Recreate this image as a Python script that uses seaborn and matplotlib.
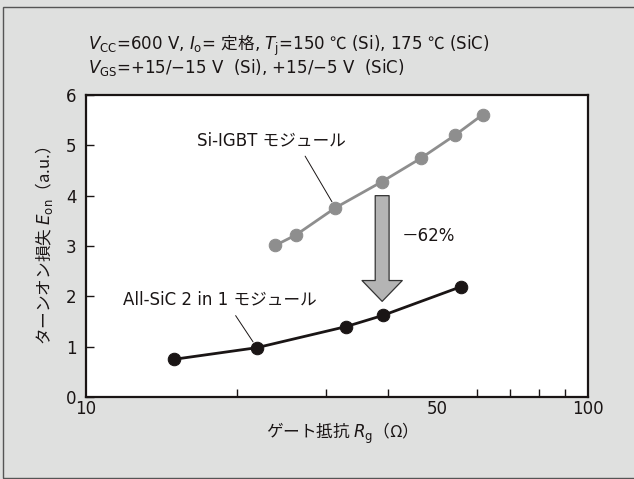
import numpy as np
import matplotlib
matplotlib.use("Agg")
import matplotlib.pyplot as plt
import seaborn as sns
from matplotlib.patches import Rectangle
from matplotlib.ticker import FixedLocator, NullFormatter

# Данні
si_rg = [23.8, 26.2, 31.4, 38.9, 46.4, 54.3, 61.7]
si_eon = [3.01, 3.22, 3.76, 4.28, 4.74, 5.20, 5.61]
sic_rg = [15.0, 21.9, 33.0, 39.0, 55.8]
sic_eon = [0.75, 0.98, 1.40, 1.62, 2.19]

si_label = "Si-IGBT モジュール"
sic_label = "All-SiC 2 in 1 モジュール"
reduction_label = "－62%"
x_major = [10, 50, 100]
x_minor = [20, 30, 40, 60, 70, 80, 90]
y_ticks = [0, 1, 2, 3, 4, 5, 6]

BG = "#dfe0df"
GRAY = "#8e8e8e"
BLACK = "#1a1515"
FS = 12
JP = 'Noto Sans CJK JP'

sns.set_style("ticks")
plt.rcParams['font.family'] = ['DejaVu Sans', JP]
# Латиниця у формулах -- DejaVu, японський текст поза формулами -- Noto
plt.rcParams['mathtext.fontset'] = 'custom'
plt.rcParams['mathtext.rm'] = 'DejaVu Sans'
plt.rcParams['mathtext.it'] = 'DejaVu Sans:italic'
plt.rcParams['mathtext.bf'] = 'DejaVu Sans:bold'
plt.rcParams['mathtext.sf'] = 'DejaVu Sans'

fig = plt.figure(figsize=(6.34, 4.79), dpi=100, facecolor=BG)
ax = fig.add_axes([86 / 634, 1 - 397 / 479, (588 - 86) / 634, (397 - 95) / 479])
ax.set_facecolor("white")

sns.lineplot(x=si_rg, y=si_eon, ax=ax, color=GRAY, lw=2, marker='o',
             markersize=9, markeredgecolor=GRAY, zorder=3)
sns.lineplot(x=sic_rg, y=sic_eon, ax=ax, color=BLACK, lw=2, marker='o',
             markersize=9, markeredgecolor=BLACK, zorder=3)

ax.set_xscale('log')
ax.set_xlim(10, 100)
ax.set_ylim(0, 6)
ax.xaxis.set_major_locator(FixedLocator(x_major))
ax.set_xticklabels([str(v) for v in x_major])
ax.xaxis.set_minor_locator(FixedLocator(x_minor))
ax.xaxis.set_minor_formatter(NullFormatter())
ax.set_yticks(y_ticks)
ax.tick_params(axis='both', which='both', direction='in', length=6, width=1,
               labelsize=FS, colors=BLACK)
ax.tick_params(axis='x', which='major', length=0, pad=2)
ax.tick_params(axis='x', which='minor', length=6)
ax.tick_params(axis='y', pad=7)
for s in ax.spines.values():
    s.set_linewidth(1.6)
    s.set_color(BLACK)

ax.set_xlabel("ゲート抵抗 $R_{\\mathrm{g}}$（Ω）", fontsize=FS, color=BLACK,
              labelpad=2, fontfamily=JP)
ax.set_ylabel("ターンオン損失 $E_{\\mathrm{on}}$（a.u.）", fontsize=FS, color=BLACK,
              labelpad=8, fontfamily=JP)

# Підписи серій з виносками
ax.annotate(si_label, xy=(si_rg[2], si_eon[2]), xytext=(23.4, 5.1),
            ha='center', va='center', fontsize=FS, color=BLACK,
            arrowprops=dict(arrowstyle='-', color=BLACK, lw=0.7,
                            relpos=(0.70, 0), shrinkA=3, shrinkB=5))
ax.annotate(sic_label, xy=(sic_rg[1], sic_eon[1]), xytext=(18.45, 1.93),
            ha='center', va='center', fontsize=FS, color=BLACK,
            arrowprops=dict(arrowstyle='-', color=BLACK, lw=0.7,
                            relpos=(0.56, 0), shrinkA=3, shrinkB=5))

# Стрілка зменшення
ax.annotate('', xy=(si_rg[3], 1.9), xytext=(si_rg[3], 4.0),
            arrowprops=dict(arrowstyle='simple,head_width=1.45,head_length=0.75,tail_width=0.5',
                            mutation_scale=20, fc='#b4b4b4', ec='#333333', lw=0.9,
                            shrinkA=0, shrinkB=0))
ax.text(42.5, 3.2, reduction_label, ha='left', va='center', fontsize=FS, color=BLACK)

header1 = (r"$V_{\mathrm{CC}}\text{=600 V, }I_{\mathrm{o}}\text{= }$定格"
           r"$\text{, }T_{\mathrm{j}}\text{=150 }$℃$\text{ (Si), 175 }$℃"
           r"$\text{ (SiC)}$")
header2 = r"$V_{\mathrm{GS}}\text{=+15/−15 V  (Si), +15/−5 V  (SiC)}$"
fig.text(88 / 634, 1 - 45 / 479, header1, ha='left', va='center',
         fontsize=FS, color=BLACK, fontfamily=JP)
fig.text(88 / 634, 1 - 67 / 479, header2, ha='left', va='center',
         fontsize=FS, color=BLACK, fontfamily=JP)

fig.patches.append(Rectangle((3 / 634, 1 - 478 / 479), 1.0, 471 / 479,
                             transform=fig.transFigure, fill=False,
                             edgecolor='#555555', lw=1))

plt.savefig("out.png", dpi=100, facecolor=BG)
plt.close()
